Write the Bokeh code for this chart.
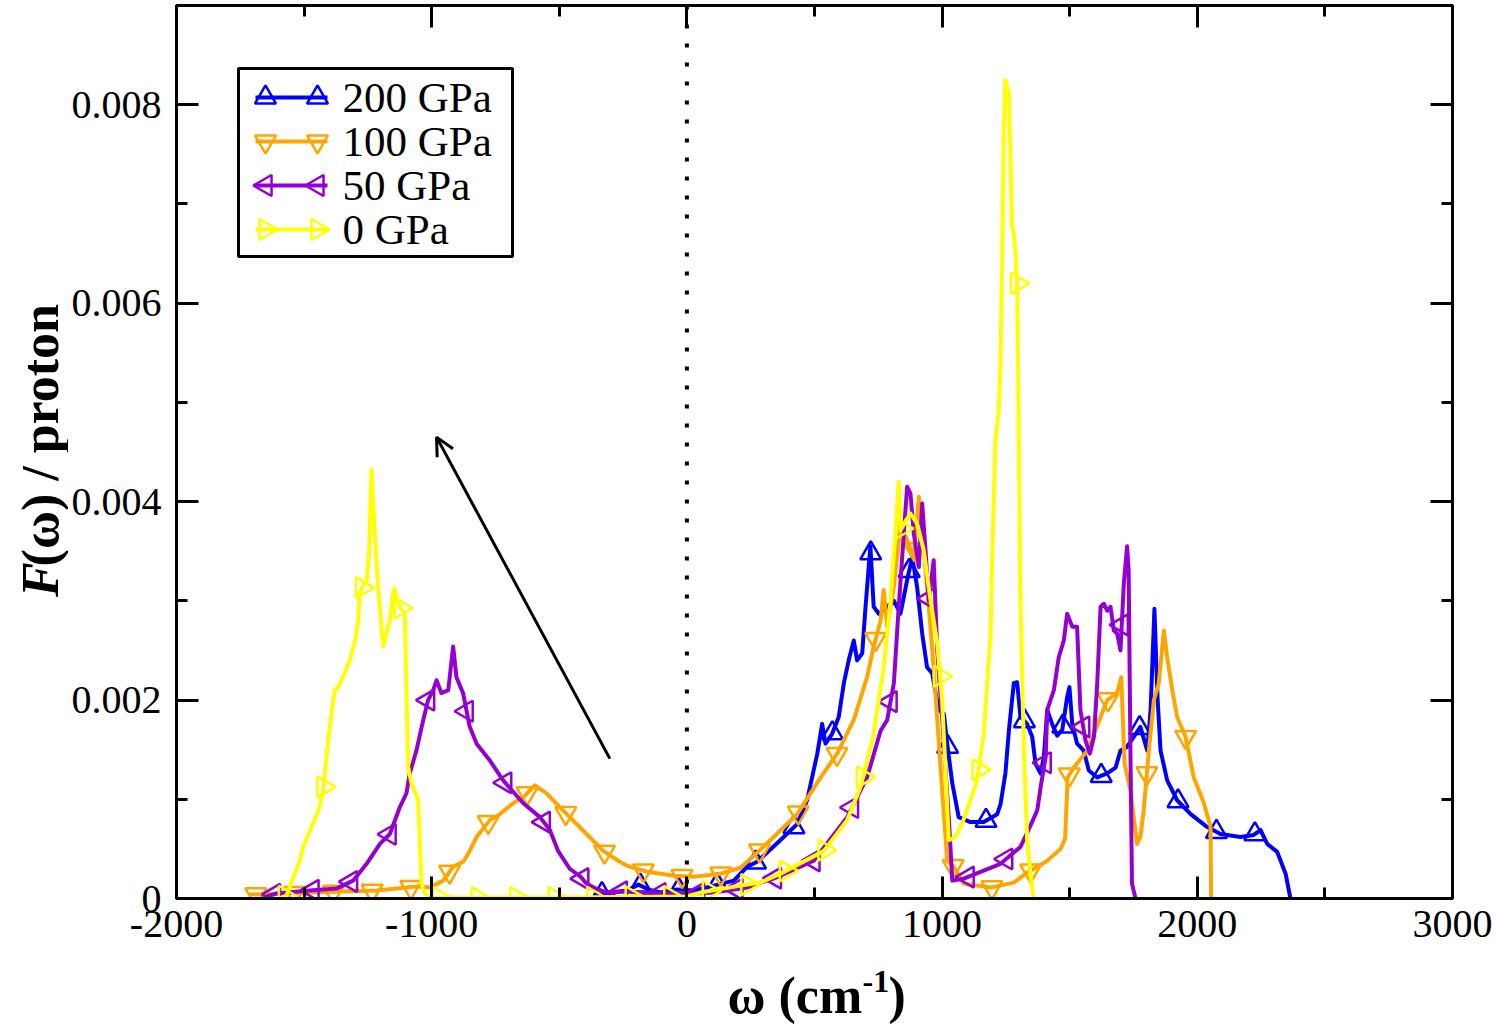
import numpy as np
from bokeh.plotting import figure
from bokeh.layouts import row, column
from bokeh.models import (FixedTicker, LinearAxis, Range1d, Label, Arrow, OpenHead, Span)
from bokeh.core.properties import value
from bokeh.embed import file_html
from bokeh.resources import INLINE

# ---------------- data ----------------
w200 = [-366, -300, -234, -190, -150, -103, -38, 27, 105, 184, 236, 275, 367, 432, 471, 511,
        530, 543, 569, 595, 615, 634, 654, 667, 687, 700, 719, 732, 752, 785, 811, 837, 863,
        883, 902, 922, 941, 961, 987, 1007, 1020, 1040, 1065, 1111, 1163, 1216, 1229, 1248,
        1262, 1281, 1294, 1307, 1333, 1353, 1366, 1386, 1399, 1412, 1431, 1451, 1471, 1490,
        1499, 1510, 1529, 1555, 1575, 1608, 1647, 1680, 1699, 1725, 1751, 1777, 1804, 1817,
        1832, 1844, 1856, 1882, 1921, 1974, 2039, 2091, 2169, 2221, 2248, 2274, 2313, 2346, 2365]
f200 = [0.00003, 0.00006, 0.00008, 0.00014, 0.00009, 0.00006, 0.00009, 0.00008, 0.00013, 0.00018,
        0.00032, 0.00037, 0.00059, 0.00075, 0.00099, 0.00146, 0.00176, 0.00156, 0.00166, 0.00183,
        0.00217, 0.0024, 0.0026, 0.0024, 0.00247, 0.00294, 0.00355, 0.00294, 0.00287, 0.00294,
        0.003, 0.00287, 0.00321, 0.00344, 0.00314, 0.00267, 0.00233, 0.00227, 0.0019, 0.00186,
        0.00156, 0.00116, 0.00082, 0.00077, 0.00077, 0.00085, 0.00095, 0.00126, 0.0017, 0.00217,
        0.00218, 0.00183, 0.00176, 0.00163, 0.00136, 0.00126, 0.00143, 0.0019, 0.00176, 0.00164,
        0.0017, 0.00203, 0.00213, 0.00176, 0.00156, 0.00149, 0.00129, 0.00122, 0.00126, 0.00132,
        0.00149, 0.00153, 0.00163, 0.00173, 0.00149, 0.0019, 0.00292, 0.00203, 0.00149, 0.00119,
        0.00099, 0.00085, 0.00072, 0.00065, 0.00062, 0.00064, 0.00069, 0.00055, 0.00047, 0.00025, 0.0]

w100 = [-1713, -1478, -1216, -1060, -1007, -955, -916, -877, -857, -824, -772, -733, -681, -641,
        -596, -550, -498, -459, -393, -328, -263, -234, -156, -51, 27, 132, 210, 275, 340, 432,
        524, 589, 654, 706, 732, 759, 771, 785, 811, 837, 863, 889, 909, 928, 948, 967, 994,
        1020, 1046, 1085, 1190, 1281, 1333, 1412, 1464, 1482, 1492, 1516, 1569, 1621, 1647,
        1686, 1702, 1715, 1738, 1764, 1777, 1790, 1810, 1830, 1849, 1869, 1882, 1902, 1921,
        1954, 1986, 2026, 2052, 2054]
f100 = [0.00004, 0.00006, 0.00008, 0.00012, 0.00011, 0.00018, 0.00032, 0.00037, 0.00045, 0.00062,
        0.00079, 0.00085, 0.00096, 0.00102, 0.00114, 0.00106, 0.00092, 0.00082, 0.00065, 0.00048,
        0.00037, 0.00033, 0.00027, 0.00023, 0.00022, 0.00025, 0.00031, 0.00046, 0.00062, 0.00085,
        0.00122, 0.00146, 0.0018, 0.00223, 0.00254, 0.0028, 0.00311, 0.00274, 0.00314, 0.00378,
        0.00361, 0.00344, 0.00405, 0.00351, 0.00294, 0.00233, 0.00132, 0.00038, 0.00032, 0.00015,
        0.00011, 0.00016, 0.00026, 0.00038, 0.0005, 0.0006, 0.00122, 0.00132, 0.00149, 0.00183,
        0.002, 0.00207, 0.00223, 0.00136, 0.00109, 0.00055, 0.00062, 0.00089, 0.00149, 0.002,
        0.00217, 0.0027, 0.00243, 0.0021, 0.00183, 0.00163, 0.00122, 0.00096, 0.00072, 0.0]

w50 = [-1660, -1608, -1478, -1373, -1308, -1255, -1203, -1164, -1125, -1099, -1086, -1060, -1033,
       -1014, -994, -981, -962, -935, -916, -903, -877, -851, -824, -772, -720, -641, -576, -537,
       -505, -459, -417, -393, -365, -315, -237, -145, -41, 26, 105, 158, 236, 288, 340, 497, 628,
       706, 759, 785, 811, 830, 850, 863, 876, 889, 909, 922, 935, 948, 967, 981, 1000, 1013,
       1026, 1040, 1085, 1229, 1307, 1340, 1373, 1386, 1406, 1412, 1438, 1457, 1477, 1490, 1510,
       1529, 1542, 1562, 1579, 1595, 1608, 1621, 1634, 1647, 1660, 1673, 1686, 1699, 1712, 1725,
       1731, 1738, 1744, 1758]
f50 = [0.00001, 0.00005, 0.00008, 0.0001, 0.00018, 0.00035, 0.00055, 0.00065, 0.00092, 0.00106,
       0.00126, 0.00149, 0.0018, 0.002, 0.0021, 0.0022, 0.00207, 0.0021, 0.00254, 0.00223, 0.00207,
       0.00173, 0.00156, 0.00139, 0.00119, 0.00096, 0.00082, 0.00069, 0.00048, 0.0003, 0.00022,
       0.00015, 0.00011, 0.00006, 0.00007, 0.00005, 0.00005, 0.00005, 0.00006, 0.00008, 0.00011,
       0.00016, 0.0002, 0.00038, 0.00082, 0.00122, 0.00169, 0.0018, 0.00217, 0.00294, 0.00368,
       0.00415, 0.00408, 0.00368, 0.00334, 0.00398, 0.00351, 0.003, 0.00341, 0.0025, 0.00183,
       0.00132, 0.00082, 0.00018, 0.0002, 0.00035, 0.00052, 0.0007, 0.00089, 0.00112, 0.00143,
       0.0019, 0.0021, 0.00243, 0.0026, 0.00287, 0.00274, 0.00274, 0.0019, 0.00159, 0.00146,
       0.00163, 0.00217, 0.00294, 0.00297, 0.0029, 0.00294, 0.0027, 0.00267, 0.0025, 0.00317,
       0.00355, 0.00331, 0.00149, 0.00015, 0.0]

w0 = [-1595, -1569, -1517, -1504, -1458, -1440, -1425, -1405, -1393, -1380, -1366, -1340, -1321,
      -1300, -1288, -1282, -1265, -1255, -1245, -1240, -1236, -1230, -1223, -1210, -1190, -1175,
      -1164, -1150, -1145, -1135, -1125, -1110, -1105, -1098, -1092, -1079, -1053, -1040, -1027,
      -1007, -500, 0, 53, 210, 288, 367, 537, 628, 680, 732, 771, 798, 817, 830, 837, 856, 876,
      902, 928, 955, 981, 1000, 1013, 1026, 1040, 1059, 1085, 1111, 1137, 1163, 1190, 1196, 1209,
      1222, 1229, 1235, 1242, 1248, 1261, 1268, 1274, 1281, 1288, 1294, 1301, 1307, 1320, 1333,
      1346, 1359]
f0 = [0.0, 0.00003, 0.00038, 0.00052, 0.0008, 0.00092, 0.0011, 0.0016, 0.00186, 0.0021, 0.00213,
      0.00228, 0.0024, 0.0026, 0.0028, 0.00308, 0.00318, 0.0032, 0.0035, 0.004, 0.00432, 0.004,
      0.00368, 0.00314, 0.00254, 0.0027, 0.0028, 0.0031, 0.00312, 0.003, 0.00294, 0.00288, 0.00284,
      0.002, 0.00132, 0.00116, 0.00099, 0.00015, 0.00005, 0.00001, 0.00001, 0.00002, 0.00006,
      0.00013, 0.00016, 0.00025, 0.00048, 0.00079, 0.00112, 0.00166, 0.00233, 0.003, 0.00368,
      0.0042, 0.00371, 0.0038, 0.00388, 0.00378, 0.00351, 0.003, 0.00257, 0.002, 0.00132, 0.00059,
      0.0006, 0.00065, 0.0008, 0.00099, 0.00119, 0.00166, 0.00267, 0.00341, 0.00462, 0.00492,
      0.00543, 0.00644, 0.00778, 0.00825, 0.00812, 0.00745, 0.00677, 0.0067, 0.0065, 0.0062,
      0.0045, 0.003, 0.00155, 0.0006, 0.00025, 0.0]

labels = ["200 GPa", "100 GPa", "50 GPa", "0 GPa"]
colors = ["#0000ff", "#ffa500", "#9400d3", "#ffff00"]
x_ticks = [-2000, -1000, 0, 1000, 2000, 3000]
x_tick_labels = ["-2000", "-1000", "0", "1000", "2000", "3000"]
x_minor = [-1500, -500, 500, 1500, 2500]
y_ticks = [0, 0.002, 0.004, 0.006, 0.008]
y_tick_labels = ["0", "0.002", "0.004", "0.006", "0.008"]
y_minor = [0.001, 0.003, 0.005, 0.007]
x_title = ["ω (cm", "-1", ")"]
y_title = ["F", "(ω) / proton"]

# ---------------- styling / layout constants ----------------
FONT = "Liberation Serif"
XR = (-2000, 3000)
YR = (0.0, 0.009)
# symbol styling: (marker, angle, first symbol position, symbol spacing)
styles = [("triangle", 0.0, -333, 150.5),
          ("inverted_triangle", 0.0, -1689, 151.8),
          ("triangle", np.pi / 2, -1618, 151.0),
          ("triangle", -np.pi / 2, -1575, 151.0)]

YLAB_W = 68          # width of the strip carrying the y title
MAIN_W = 1498 - YLAB_W
MAIN_H = 960
XLAB_H = 1025 - MAIN_H
BL, BR, BT, BB = 176 - YLAB_W, 46, 5, 62
FW = MAIN_W - BL - BR     # frame width in px
FH = MAIN_H - BT - BB     # frame height in px


def px2x(px):             # canvas px (whole page) -> data x
    return XR[0] + (px - (YLAB_W + BL)) / FW * (XR[1] - XR[0])


def py2y(py):             # canvas px (whole page) -> data y
    return YR[0] + (BT + FH - py) / FH * (YR[1] - YR[0])


p = figure(width=MAIN_W, height=MAIN_H, x_range=Range1d(*XR), y_range=Range1d(*YR),
           output_backend="svg", toolbar_location=None,
           min_border_left=BL, min_border_right=BR, min_border_top=BT, min_border_bottom=BB)
p.grid.visible = False
p.outline_line_color = "black"
p.outline_line_width = 3
p.background_fill_color = "white"
p.border_fill_color = "white"

xt = FixedTicker(ticks=x_ticks, minor_ticks=x_minor)
yt = FixedTicker(ticks=y_ticks, minor_ticks=y_minor)


def style_axis(ax):
    ax.axis_line_width = 3
    ax.axis_line_color = "black"
    ax.major_tick_line_width = 3
    ax.minor_tick_line_width = 3
    ax.major_tick_in = 22
    ax.major_tick_out = 0
    ax.minor_tick_in = 11
    ax.minor_tick_out = 0
    ax.major_label_text_font = FONT
    ax.major_label_text_color = "black"
    ax.major_label_text_font_size = "40px"


xa = p.xaxis[0]
xa.ticker = xt
style_axis(xa)
xa.major_label_standoff = 12
xa.major_label_overrides = {v: s for v, s in zip(x_ticks, x_tick_labels)}
ya = p.yaxis[0]
ya.ticker = yt
style_axis(ya)
ya.major_label_standoff = 15
ya.major_label_overrides = {v: s for v, s in zip(y_ticks, y_tick_labels)}

top = LinearAxis(ticker=xt)
style_axis(top)
top.major_label_text_font_size = "1px"
top.major_label_standoff = 0
top.major_label_overrides = {v: "" for v in x_ticks}
p.add_layout(top, "above")
right = LinearAxis(ticker=yt)
style_axis(right)
right.major_label_text_font_size = "1px"
right.major_label_standoff = 0
right.major_label_overrides = {v: "" for v in y_ticks}
p.add_layout(right, "right")

# dotted zero line
p.add_layout(Span(location=0, dimension="height", line_color="black",
                  line_width=4, line_dash="4 15"))

# legend frame (drawn by hand so that each entry shows a symbol at both ends)
p.quad(left=[px2x(238)], right=[px2x(512)], top=[py2y(68)], bottom=[py2y(256)],
       fill_color="white", line_color="black", line_width=3)
leg_rows = [97, 141, 185, 229]

for i, (lab, w, f, c, (mk, ang, m0, dm)) in enumerate(
        zip(labels, [w200, w100, w50, w0], [f200, f100, f50, f0], colors, styles)):
    w = np.asarray(w, dtype=float)
    f = np.asarray(f, dtype=float)
    p.line(w, f, line_color=c, line_width=4, line_join="round")
    mx = np.arange(m0, w.max() + 1, dm)
    mx = mx[mx >= w.min()]
    my = np.interp(mx, w, f)
    p.scatter(mx, my, marker=mk, angle=ang, size=21, fill_color=None,
              line_color=c, line_width=2.5)
    # legend entry
    ly = py2y(leg_rows[i])
    p.line([px2x(255), px2x(327)], [ly, ly], line_color=c, line_width=4)
    p.scatter([px2x(265), px2x(317)], [ly, ly], marker=mk, angle=ang, size=21,
              fill_color=None, line_color=c, line_width=2.5)
    p.text([px2x(342)], [ly], text=[lab], text_font=value(FONT), text_font_size="43px",
           text_baseline="middle", text_align="left", text_color="black")

# arrow
p.add_layout(Arrow(end=OpenHead(size=18, line_width=3, line_color="black"),
                   x_start=-302, y_start=0.00141, x_end=-981, y_end=0.00465,
                   line_width=3, line_color="black"))

# ---- y title strip ----
yl = figure(width=YLAB_W, height=MAIN_H, x_range=Range1d(0, YLAB_W), y_range=Range1d(0, MAIN_H),
            output_backend="svg", toolbar_location=None, min_border=0)
yl.axis.visible = False
yl.grid.visible = False
yl.outline_line_color = None
Y0 = MAIN_H - 636
yl.add_layout(Label(x=40, y=Y0, text=y_title[0], angle=np.pi / 2, text_align="left",
                    text_baseline="middle", text_font=FONT, text_font_size="52px",
                    text_font_style="bold italic", text_color="black"))
yl.add_layout(Label(x=40, y=Y0 + 33, text=y_title[1], angle=np.pi / 2,
                    text_align="left", text_baseline="middle", text_font=FONT,
                    text_font_size="52px", text_font_style="bold", text_color="black"))

# ---- x title strip ----
xl = figure(width=1498, height=XLAB_H, x_range=Range1d(0, 1498), y_range=Range1d(0, XLAB_H),
            output_backend="svg", toolbar_location=None, min_border=0)
xl.axis.visible = False
xl.grid.visible = False
xl.outline_line_color = None
mid = 1025 - 995
xl.add_layout(Label(x=727, y=mid, text=x_title[0], text_align="left",
                    text_baseline="middle", text_font=FONT, text_font_size="52px",
                    text_font_style="bold", text_color="black"))
xl.add_layout(Label(x=862, y=mid + 14, text=x_title[1], text_align="left",
                    text_baseline="middle", text_font=FONT, text_font_size="32px",
                    text_font_style="bold", text_color="black"))
xl.add_layout(Label(x=888, y=mid, text=x_title[2], text_align="left",
                    text_baseline="middle", text_font=FONT, text_font_size="52px",
                    text_font_style="bold", text_color="black"))

layout = column(row(yl, p), xl)
open("out.html", "w").write(file_html(layout, INLINE))
